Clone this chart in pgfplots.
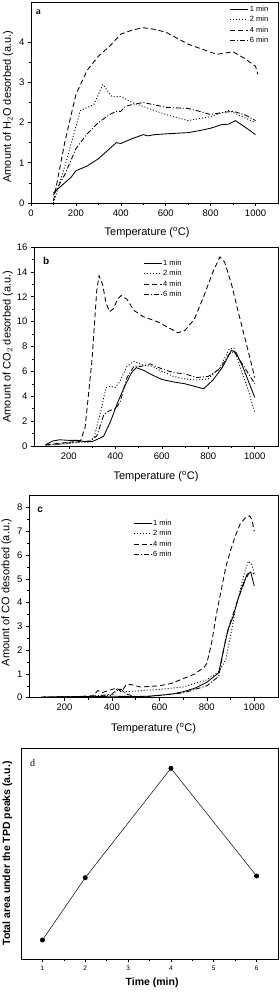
\documentclass[border=0pt]{standalone}
\usepackage{fontspec}
\setmainfont{Liberation Sans}
\newfontfamily\seriffont{Liberation Serif}
\usepackage{pgfplots}
\pgfplotsset{compat=1.18}
\pgfplotsset{
  tpd/.style={
    scale only axis,
    anchor=south west,
    axis line style={line width=0.8pt},
    every tick/.style={black, line width=0.6pt},
    tick align=outside,
    xtick pos=bottom, ytick pos=left,
    major tick length=3pt, minor tick length=2pt,
    /pgf/number format/assume math mode=true,
    /pgf/number format/set thousands separator={},
    tick label style={font=\fontsize{9.5}{10}\selectfont},
    label style={font=\fontsize{11}{12}\selectfont},
    xlabel style={at={(axis description cs:0.48,-0.1)}, anchor=center},
    ylabel style={anchor=center, rotate=0},
    legend image code/.code={\draw[#1] (0pt,0pt) -- (18pt,0pt);},
    legend style={draw=none, fill=none, font=\fontsize{7.5}{7.5}\selectfont,
      inner sep=0pt, row sep=1.3pt, nodes={inner sep=1pt}},
    legend cell align=left,
    every axis plot/.append style={line width=0.85pt, black},
  },
  l1/.style={solid},
  l2/.style={dotted, dash pattern=on 1pt off 2pt},
  l4/.style={dash pattern=on 5pt off 3pt},
  l6/.style={dash pattern=on 5pt off 2pt on 1pt off 2pt},
}
\begin{document}
\begin{tikzpicture}
\useasboundingbox (0,0) rectangle (280pt,992pt);
% ---------------- panel a
\begin{axis}[tpd, at={(31pt,789pt)}, width=247pt, height=201pt,
  xmin=0, xmax=1100, ymin=0, ymax=5,
  xtick={0,200,...,1000}, minor x tick num=1,
  ytick={0,1,2,3,4}, minor y tick num=1,
  xlabel={Temperature ($^{\mathrm{o}}$C)},
  xlabel style={at={(axis description cs:0.47,-0.145)}},
  ylabel={Amount of H$_2$O desorbed (a.u.)},
  ylabel style={at={(axis description cs:-0.093,0.48)}},
  legend style={at={(axis description cs:0.805,0.985)}, anchor=north west}]
\addplot[l1] coordinates {(100,0.25)(150,0.5)(180,0.65)(200,0.8)(250,0.92)(300,1.1)(350,1.35)(380,1.5)(400,1.48)(450,1.6)(500,1.7)(520,1.67)(550,1.7)(600,1.72)(700,1.75)(750,1.8)(800,1.86)(850,1.95)(880,1.96)(910,2.05)(950,1.9)(1000,1.7)};
\addplot[l2] coordinates {(100,0.0)(150,0.9)(200,1.9)(220,2.3)(280,2.45)(320,2.95)(360,2.65)(400,2.65)(450,2.5)(500,2.4)(600,2.2)(700,2.05)(750,2.1)(800,2.15)(880,2.3)(920,2.2)(1000,2.0)};
\addplot[l4] coordinates {(100,0.05)(150,1.5)(200,2.7)(250,3.3)(300,3.65)(350,3.9)(400,4.2)(450,4.3)(500,4.36)(550,4.32)(600,4.25)(700,3.95)(800,3.75)(830,3.7)(900,3.76)(950,3.6)(1000,3.4)(1010,3.2)};
\addplot[l6] coordinates {(100,0.2)(150,0.7)(200,1.35)(250,1.72)(300,2.0)(350,2.2)(380,2.28)(400,2.28)(420,2.4)(450,2.45)(500,2.5)(600,2.38)(700,2.35)(750,2.28)(800,2.2)(850,2.25)(900,2.28)(950,2.2)(1000,2.05)};
\legend{1 min,2 min,4 min,6 min}
\node[font=\seriffont\bfseries\fontsize{10}{10}\selectfont, anchor=center] at (axis description cs:0.03,0.95) {a};
\end{axis}
% ---------------- panel b
\begin{axis}[tpd, at={(34pt,546pt)}, width=244pt, height=199pt,
  xmin=50, xmax=1100, ymin=0, ymax=16,
  xtick={200,400,...,1000}, minor x tick num=1,
  ytick={0,2,...,16}, minor y tick num=1,
  xlabel={Temperature ($^{\mathrm{o}}$C)},
  xlabel style={at={(axis description cs:0.5,-0.155)}},
  ylabel={Amount of CO$_2$ desorbed (a.u.)},
  ylabel style={at={(axis description cs:-0.107,0.5)}},
  legend style={at={(axis description cs:0.447,0.94)}, anchor=north west}]
\addplot[l1] coordinates {(100,0.1)(130,0.4)(160,0.5)(200,0.45)(240,0.45)(270,0.35)(300,0.35)(330,0.6)(350,0.8)(380,2)(410,3.5)(440,4.8)(470,5.9)(490,6.3)(520,6.1)(560,5.7)(600,5.35)(650,5.15)(700,5.0)(740,4.8)(780,4.6)(820,5.3)(860,6.3)(900,7.7)(920,7.5)(950,6.3)(1000,3.9)};
\addplot[l2] coordinates {(100,0.05)(150,0.1)(200,0.2)(250,0.3)(290,0.3)(310,0.8)(340,3)(360,4.7)(380,4.8)(400,4.7)(420,5.2)(450,6.4)(480,6.8)(520,6.5)(560,6.4)(600,6.0)(650,5.6)(700,5.4)(750,5.3)(800,5.4)(850,6.3)(890,7.8)(910,7.9)(940,6.2)(970,4.6)(1000,2.7)};
\addplot[l4] coordinates {(100,0.1)(150,0.2)(200,0.3)(250,0.4)(270,1.5)(300,7)(320,12.5)(330,13.7)(345,13)(360,11.5)(375,10.8)(390,11)(410,11.8)(425,12.1)(450,11.8)(480,10.9)(520,10.4)(580,10.0)(620,9.6)(670,9.1)(700,9.3)(740,10.2)(780,12)(820,14)(850,15.2)(870,14.8)(900,13)(930,10.7)(960,8.5)(1000,5.5)};
\addplot[l6] coordinates {(100,0.1)(150,0.15)(200,0.25)(250,0.35)(290,0.4)(320,0.8)(350,2.5)(370,2.8)(400,3.0)(420,3.5)(450,5.5)(480,6.4)(510,6.4)(550,6.6)(600,6.2)(650,5.9)(700,5.8)(750,5.5)(800,5.6)(850,6.2)(890,7.4)(910,7.6)(950,6.5)(1000,5.0)};
\legend{1 min,2 min,4 min,6 min}
\node[font=\bfseries\fontsize{10}{10}\selectfont, anchor=center] at (axis description cs:0.05,0.93) {b};
\end{axis}
% ---------------- panel c
\begin{axis}[tpd, at={(29pt,294.3pt)}, width=249pt, height=202pt,
  xmin=50, xmax=1100, ymin=0, ymax=8.5,
  xtick={200,400,...,1000}, minor x tick num=1,
  ytick={0,1,...,8}, minor y tick num=1,
  xlabel={Temperature ($^{\mathrm{o}}$C)},
  xlabel style={at={(axis description cs:0.5,-0.155)}},
  ylabel={Amount of CO desorbed (a.u.)},
  ylabel style={at={(axis description cs:-0.09,0.52)}},
  legend style={at={(axis description cs:0.418,0.885)}, anchor=north west}]
\addplot[l1] coordinates {(100,0.02)(200,0.04)(300,0.05)(400,0.06)(500,0.05)(550,0.06)(600,0.1)(650,0.15)(700,0.25)(750,0.4)(800,0.65)(850,1.05)(870,2)(890,2.9)(910,3.4)(930,4.1)(950,4.7)(970,5.2)(985,5.28)(1000,4.7)};
\addplot[l2] coordinates {(100,0.02)(300,0.05)(400,0.1)(420,0.3)(450,0.25)(500,0.28)(600,0.35)(700,0.45)(800,0.75)(850,1.1)(880,1.6)(900,2.6)(920,3.7)(940,4.5)(960,5.3)(975,5.75)(990,5.6)(1000,5.2)};
\addplot[l4] coordinates {(100,0.02)(250,0.05)(320,0.08)(340,0.3)(360,0.22)(400,0.35)(420,0.4)(440,0.25)(460,0.55)(480,0.55)(520,0.45)(600,0.5)(650,0.6)(700,0.8)(750,1.0)(790,1.3)(800,1.45)(820,2.3)(840,3.5)(860,4.5)(880,5.5)(900,6.2)(920,6.8)(940,7.3)(960,7.55)(980,7.65)(990,7.5)(1000,7.0)};
\addplot[l6] coordinates {(100,0.02)(300,0.05)(360,0.1)(400,0.15)(420,0.35)(440,0.35)(460,0.15)(500,0.05)(550,0.05)(600,0.1)(700,0.2)(800,0.5)(850,0.9)(880,2.5)(900,3.2)(930,4.1)(960,4.9)(980,5.3)(1000,5.2)};
\legend{1 min,2 min,4 min,6 min}
\node[font=\bfseries\fontsize{10}{10}\selectfont, anchor=center] at (axis description cs:0.045,0.93) {c};
\end{axis}
% ---------------- panel d
\begin{axis}[tpd, at={(21pt,33pt)}, width=257pt, height=211pt,
  xmin=0.5, xmax=6.5, ymin=0, ymax=211,
  xtick={1,...,6}, minor x tick num=1, ytick=\empty,
  tick label style={font=\fontsize{6.5}{7}\selectfont},
  label style={font=\bfseries\fontsize{10.5}{11}\selectfont},
  xlabel={Time (min)},
  xlabel style={at={(axis description cs:0.51,-0.114)}},
  ylabel={Total area under the TPD peaks (a.u.)},
  ylabel style={at={(axis description cs:-0.053,0.5)}}]
\addplot[black, line width=0.5pt, mark=*, mark size=2.2pt] coordinates {(1,19)(2,81.3)(4,190.7)(6,83)};
\node[font=\seriffont\fontsize{10}{10}\selectfont, anchor=center] at (axis description cs:0.045,0.93) {d};
\end{axis}
\end{tikzpicture}
\end{document}
